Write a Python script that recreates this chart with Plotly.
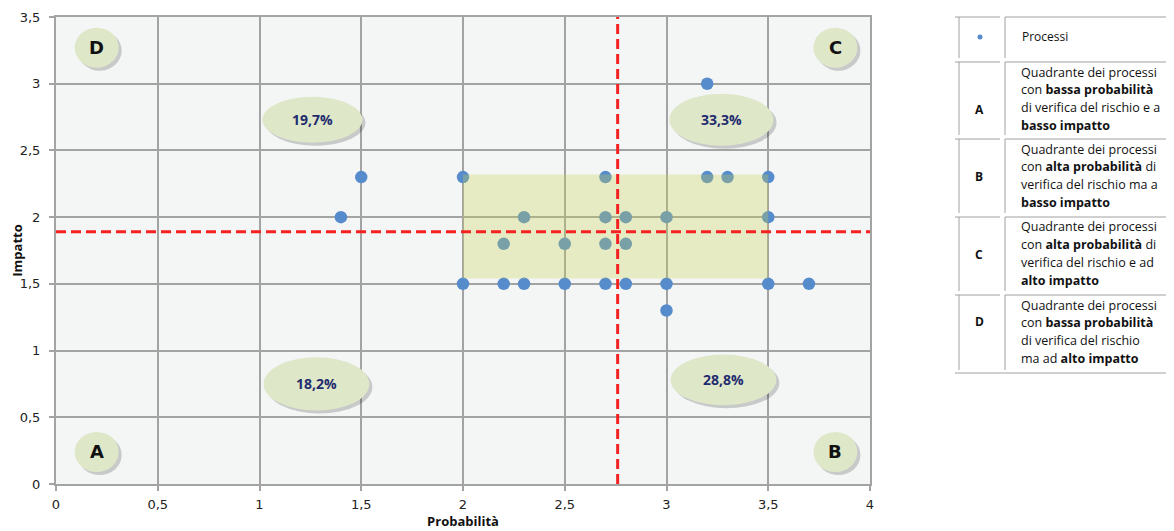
import plotly.graph_objects as go

# ---- data ----
probabilita = [1.4, 1.5, 2.0, 2.0, 2.2, 2.2, 2.3, 2.3, 2.5, 2.5, 2.7, 2.7, 2.7, 2.7,
               2.8, 2.8, 2.8, 3.0, 3.0, 3.0, 3.2, 3.2, 3.3, 3.5, 3.5, 3.5, 3.7]
impatto = [2.0, 2.3, 2.3, 1.5, 1.8, 1.5, 2.0, 1.5, 1.8, 1.5, 2.3, 2.0, 1.8, 1.5,
           2.0, 1.8, 1.5, 2.0, 1.5, 1.3, 3.0, 2.3, 2.3, 2.3, 2.0, 1.5, 1.5]
soglia_probabilita = 2.76
soglia_impatto = 1.89
area_x = [2.0, 3.5]
area_y = [1.54, 2.32]
quadranti = ["A", "B", "C", "D"]
percentuali = ["18,2%", "28,8%", "33,3%", "19,7%"]
tick_vals_x = [0, 0.5, 1, 1.5, 2, 2.5, 3, 3.5, 4]
tick_text_x = ["0", "0,5", "1", "1,5", "2", "2,5", "3", "3,5", "4"]
tick_vals_y = [0, 0.5, 1, 1.5, 2, 2.5, 3, 3.5]
tick_text_y = ["0", "0,5", "1", "1,5", "2", "2,5", "3", "3,5"]
legenda_descr = {
    "A": ["Quadrante dei processi", "con <b>bassa probabilità</b>",
          "di verifica del rischio e a", "<b>basso impatto</b>"],
    "B": ["Quadrante dei processi", "con <b>alta probabilità</b> di",
          "verifica del rischio ma a", "<b>basso impatto</b>"],
    "C": ["Quadrante dei processi", "con <b>alta probabilità</b> di",
          "verifica del rischio e ad", "<b>alto impatto</b>"],
    "D": ["Quadrante dei processi", "con <b>bassa probabilità</b>",
          "di verifica del rischio", "ma ad <b>alto impatto</b>"],
}

# ---- layout geometry (pixels on the page) ----
W, H = 1174, 531
OFF = 8  # page body margin
L, R, T, B = 56, 304, 17, 47
PW, PH = W - L - R, H - T - B


def px(x):
    return (x - L) / PW


def py(y):
    return (H - B - y) / PH


fig = go.Figure()
fig.add_trace(go.Scatter(
    x=probabilita, y=impatto, mode="markers", name="Processi",
    marker=dict(size=12.5, color="#568bcc"), showlegend=False,
    hoverinfo="x+y"))

shapes = []
annotations = []

# highlighted area
shapes.append(dict(type="rect", xref="x", yref="y", x0=area_x[0], x1=area_x[1],
                   y0=area_y[0], y1=area_y[1], fillcolor="rgba(200,210,80,0.30)",
                   line=dict(width=0), layer="above"))
# threshold lines
shapes.append(dict(type="line", xref="x", yref="y", x0=soglia_probabilita, x1=soglia_probabilita,
                   y0=0, y1=3.5, line=dict(color="#f52020", width=3, dash="10px,5px"), layer="above"))
shapes.append(dict(type="line", xref="x", yref="y", x0=0, x1=4,
                   y0=soglia_impatto, y1=soglia_impatto,
                   line=dict(color="#f52020", width=3, dash="10px,5px"), layer="above"))

letter_pos = {"A": (0.2, 0.24), "B": (3.83, 0.24), "C": (3.83, 3.27), "D": (0.2, 3.27)}
pct_pos = {"A": (1.28, 0.75, 0.26, 0.20), "B": (3.28, 0.78, 0.26, 0.19),
           "C": (3.27, 2.73, 0.256, 0.195), "D": (1.26, 2.73, 0.246, 0.172)}

sx, sy = 3 / 203.5, 3 / 133.4


def bubble(cx, cy, hw, hh):
    shapes.append(dict(type="circle", xref="x", yref="y", x0=cx - hw + sx, x1=cx + hw + sx,
                       y0=cy - hh - sy, y1=cy + hh - sy, fillcolor="rgba(0,0,0,0.18)",
                       line=dict(width=0), layer="above"))
    shapes.append(dict(type="circle", xref="x", yref="y", x0=cx - hw, x1=cx + hw,
                       y0=cy - hh, y1=cy + hh, fillcolor="#dfe7c9",
                       line=dict(width=0), layer="above"))


for q, pct in zip(quadranti, percentuali):
    cx, cy = letter_pos[q]
    bubble(cx, cy, 0.108, 0.15)
    annotations.append(dict(x=cx, y=cy, xref="x", yref="y", text="<b>%s</b>" % q, showarrow=False,
                            font=dict(family="DejaVu Sans", size=18, color="#111")))
    cx, cy, hw, hh = pct_pos[q]
    bubble(cx, cy, hw, hh)
    annotations.append(dict(x=cx, y=cy, xref="x", yref="y", text="<b>%s</b>" % pct, showarrow=False,
                            font=dict(family="Open Sans", size=14, color="#1f2c6e")))

# ---- legend table on the right ----
line_col = "#a0a0a0"
rows = [(17, 58), (62, 135), (139, 213), (217, 291), (295, 370)]
for (y0, y1) in rows:
    shapes.append(dict(type="line", xref="paper", yref="paper", x0=px(955), x1=px(1000),
                       y0=py(y0), y1=py(y0), line=dict(color=line_col, width=1)))
    shapes.append(dict(type="line", xref="paper", yref="paper", x0=px(1005), x1=px(1174),
                       y0=py(y0), y1=py(y0), line=dict(color=line_col, width=1)))
    for xv in (959, 1005):
        shapes.append(dict(type="line", xref="paper", yref="paper", x0=px(xv), x1=px(xv),
                           y0=py(y0), y1=py(y1), line=dict(color=line_col, width=1)))
shapes.append(dict(type="line", xref="paper", yref="paper", x0=px(955), x1=px(1174),
                   y0=py(373), y1=py(373), line=dict(color=line_col, width=1)))

shapes.append(dict(type="circle", xref="paper", yref="paper", x0=px(977.5), x1=px(982.5),
                   y0=py(39.5), y1=py(34.5), fillcolor="#568bcc", line=dict(width=0)))
annotations.append(dict(x=px(1020), y=py(37), xref="paper", yref="paper", text="Processi",
                        xanchor="left", yanchor="middle", showarrow=False,
                        font=dict(family="Open Sans", size=12, color="#111")))

for i, q in enumerate(quadranti):
    top = rows[i + 1][0]
    annotations.append(dict(x=px(979), y=py(top + 37), xref="paper", yref="paper",
                            text="<b>%s</b>" % q, showarrow=False, xanchor="center",
                            font=dict(family="Open Sans", size=12, color="#111")))
    for j, ln in enumerate(legenda_descr[q]):
        annotations.append(dict(x=px(1019), y=py(top + 10 + 17.7 * j), xref="paper", yref="paper",
                                text=ln, xanchor="left", yanchor="middle", showarrow=False,
                                font=dict(family="Open Sans", size=12.5, color="#111")))

grid_col = "#a3a3a3"
fig.update_layout(
    width=W - OFF, height=H - OFF,
    margin=dict(l=L - OFF, r=R, t=T - OFF, b=B, autoexpand=False),
    paper_bgcolor="white",
    plot_bgcolor="#f4f6f6",
    shapes=shapes,
    annotations=annotations,
    showlegend=False,
    xaxis=dict(range=[0, 4], tickvals=tick_vals_x, ticktext=tick_text_x,
               showgrid=True, gridcolor=grid_col, gridwidth=1.5,
               showline=True, linecolor=grid_col, linewidth=2, mirror=True,
               ticks="outside", ticklen=5, tickcolor=grid_col, tickwidth=1.5,
               zeroline=False, automargin=False, ticklabelstandoff=2,
               tickfont=dict(family="DejaVu Sans", size=13, color="#222"),
               title=dict(text="<b>Probabilità</b>", standoff=4,
                          font=dict(family="Open Sans", size=13, color="#111"))),
    yaxis=dict(range=[0, 3.5], tickvals=tick_vals_y, ticktext=tick_text_y,
               showgrid=True, gridcolor=grid_col, gridwidth=1.5,
               showline=True, linecolor=grid_col, linewidth=2, mirror=True,
               ticks="outside", ticklen=5, tickcolor=grid_col, tickwidth=1.5,
               zeroline=False, automargin=False, ticklabelstandoff=6,
               tickfont=dict(family="DejaVu Sans", size=13, color="#222"),
               title=dict(text="<b>Impatto</b>", standoff=6,
                          font=dict(family="Open Sans", size=13, color="#111"))),
)

fig.write_html("out.html")
